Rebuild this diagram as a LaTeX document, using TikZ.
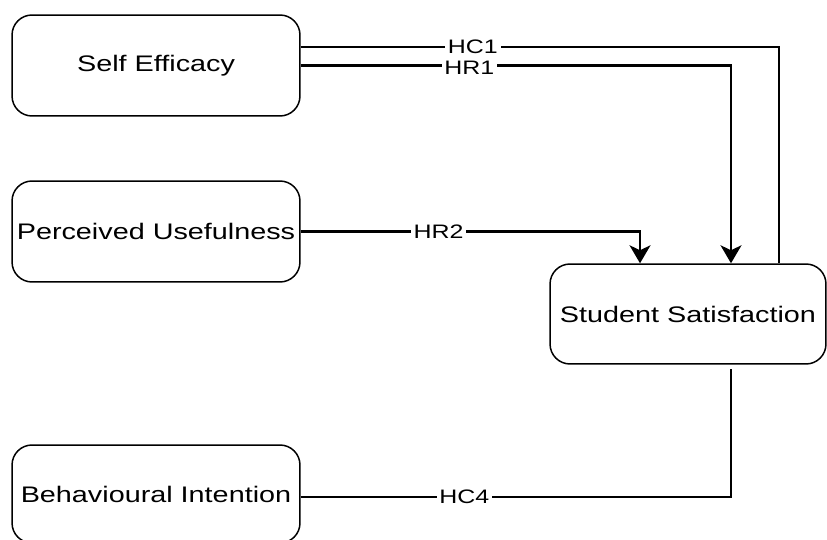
\documentclass[tikz,border=0pt]{standalone}
\usepackage{fontspec}
\setmainfont{Liberation Sans}[FakeStretch=1.28]
\usetikzlibrary{arrows.meta}

\tikzset{
  box/.style={draw, rounded corners=0.4cm, line width=0.85pt, inner sep=0pt,
    font=\fontsize{12.8}{15}\selectfont},
  conn/.style={line width=1.15pt},
  lbl/.style={fill=white, inner xsep=1.5pt, inner ysep=0pt, font=\fontsize{11.1}{13}\selectfont},
  tip/.style={-{Stealth[length=0.36cm, width=0.42cm, inset=0.1cm]}}
}

\begin{document}
\begin{tikzpicture}[x=0.02cm, y=-0.02cm]
\useasboundingbox (0,0) rectangle (827,540);
\node [box, minimum width=5.76cm, minimum height=2.02cm] (se) at (156,65.5) {Self Efficacy};
\node [box, minimum width=5.76cm, minimum height=2.02cm] (pu) at (156,231.5) {Perceived Usefulness};
\node [box, minimum width=5.76cm, minimum height=1.96cm] (bi) at (156,494) {Behavioural Intention};
\node [box, minimum width=5.52cm, minimum height=2cm] (ss) at (688,314) {Student Satisfaction};
\draw [conn] ([yshift=0.37cm]se.east) -| ([xshift=1.82cm]ss.north) node [lbl, pos=0.18] {HC1};
\draw [conn, tip] (se.east) -| ([xshift=0.86cm]ss.north) node [lbl, pos=0.196, yshift=-0.05cm] {HR1};
\draw [conn, tip] (pu.east) -| ([xshift=-0.96cm]ss.north) node [lbl, pos=0.203] {HR2};
\draw [conn] ([yshift=-0.06cm]bi.east) -| ([xshift=0.86cm, yshift=-0.08cm]ss.south) node [lbl, pos=0.19] {HC4};
\end{tikzpicture}
\end{document}
